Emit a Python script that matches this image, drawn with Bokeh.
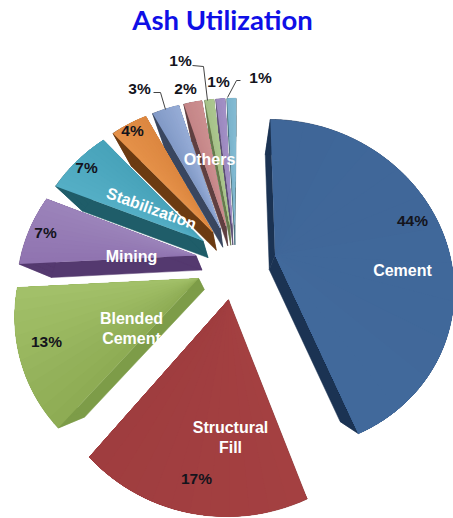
import math
from bokeh.core.properties import value
from bokeh.embed import file_html
from bokeh.models import Range1d
from bokeh.plotting import figure
from bokeh.resources import INLINE

# Share of ash use per category, clockwise from the top
categories = ["Cement", "Structural Fill", "Blended Cement", "Mining", "Stabilization",
              "Orange", "Blue", "Pink", "Green", "Purple", "Teal"]
shares = [44, 17, 13, 7, 7, 4, 3, 2, 1, 1, 1]
# Face tones at the clockwise start and end of each slice
face_start = ["#3f6698", "#a44041", "#8dab53", "#8f73b0", "#55afc5",
              "#e59149", "#8199c6", "#c48587", "#a6c188", "#9b88be", "#7ab3cb"]
face_end = ["#41699b", "#9f3d3f", "#a3c16a", "#9c84ba", "#47a2ba",
            "#dc8740", "#96acd6", "#cc8f90", "#acc790", "#a390c6", "#84bbd3"]
side_colors = ["#1b3353", "#7a2c2c", "#7d9c48", "#54396f", "#1f5d69",
               "#6c3b12", "#39465f", "#5f3f40", "#667a4c", "#5a4d73", "#46707f"]

# Projection of the tilted disc onto the page
WIDTH, HEIGHT = 453, 518
CX, CY = 235, 261
AX, AY = 176, 162
PERSPECTIVE = 0.18
EXPLODE = 0.23
START_DEG = 0.5
# Extrusion shrinks each face towards this vanishing point
VANISH = (236, 353)
DEPTH = 0.85


def project(px, py):
    s = 1 / (1 + PERSPECTIVE * py)
    return CX + AX * px * s, CY - AY * py * s


def offset(t0, t1):
    mid = math.radians((t0 + t1) / 2)
    return EXPLODE * math.sin(mid), EXPLODE * math.cos(mid)


def face_outline(t0, t1, a0=None):
    """Outline of the slice t0..t1, starting from angle a0 when given."""
    a0 = t0 if a0 is None else a0
    ox, oy = offset(t0, t1)
    pts = [project(ox, oy)]
    steps = max(3, int((t1 - a0) / 2))
    for i in range(steps + 1):
        t = math.radians(a0 + (t1 - a0) * i / steps)
        pts.append(project(ox + math.sin(t), oy + math.cos(t)))
    return pts


def extruded(pts):
    return [(VANISH[0] + DEPTH * (x - VANISH[0]), VANISH[1] + DEPTH * (y - VANISH[1])) for x, y in pts]


def blend(c0, c1, f):
    a = [int(c0[i:i + 2], 16) for i in (1, 3, 5)]
    b = [int(c1[i:i + 2], 16) for i in (1, 3, 5)]
    return "#%02x%02x%02x" % tuple(round(u + (v - u) * f) for u, v in zip(a, b))


p = figure(width=WIDTH, height=HEIGHT, output_backend="svg", toolbar_location=None,
           x_range=Range1d(0, WIDTH), y_range=Range1d(HEIGHT, 0), min_border=0)
p.axis.visible = False
p.grid.visible = False
p.outline_line_color = None

edges = [START_DEG]
for s in shares:
    edges.append(edges[-1] + s * 3.6)

BANDS = 12
# Back slices first so that nearer ones overlap them
for i in [10, 9, 8, 7, 6, 5, 4, 3, 2, 1, 0]:
    t0, t1 = edges[i], edges[i + 1]
    front = face_outline(t0, t1)
    back = extruded(front)
    n = len(front)
    for j in range(n):
        k = (j + 1) % n
        quad = [front[j], front[k], back[k], back[j]]
        p.patch([q[0] for q in quad], [q[1] for q in quad], fill_color=side_colors[i],
                line_color=side_colors[i], line_width=0.5)
    # Each band runs on to the slice's end and is overpainted by the next,
    # which leaves no seams in the shading
    for b in range(BANDS):
        a0 = t0 + (t1 - t0) * b / BANDS
        part = face_outline(t0, t1, a0)
        tone = blend(face_start[i], face_end[i], (b + 0.5) / BANDS)
        p.patch([q[0] for q in part], [q[1] for q in part], fill_color=tone, line_color=None)

# Leader lines from the small slices to their labels
leaders = [([153, 160, 165], [92, 92, 109]),
           ([192, 203, 207], [65, 66, 100]),
           ([240, 236, 227], [80, 80, 97])]
for xs, ys in leaders:
    p.line(xs, ys, line_color="#444444", line_width=1)


def label(x, y, text, size, color, font="Liberation Sans", angle=0):
    p.text([x], [y], text=[text], text_font=value(font), text_font_style="bold",
           text_font_size=f"{size}px", text_color=color, text_align="center",
           text_baseline="middle", angle=angle)


pct = [("44%", 412, 220), ("17%", 196, 478), ("13%", 46, 341), ("7%", 45, 232), ("7%", 86, 167),
       ("4%", 132, 130), ("3%", 139, 88), ("2%", 185, 88), ("1%", 180, 60), ("1%", 218, 81), ("1%", 260, 77)]
for t, x, y in pct:
    label(x, y, t, 15.5, "#14141c")

names = [("Cement", 402, 270), ("Structural", 230, 427), ("Fill", 230, 447), ("Blended", 131, 318),
         ("Cement", 131, 338), ("Mining", 131, 256), ("Others", 209, 159)]
for t, x, y in names:
    label(x, y, t, 16, "#ffffff")
label(151, 208, "Stabilization", 16, "#ffffff", angle=math.radians(-20))

label(222, 19, "Ash Utilization", 27.5, "#0f0fe6", font="Lato")

open("out.html", "w").write(file_html(p, INLINE))
